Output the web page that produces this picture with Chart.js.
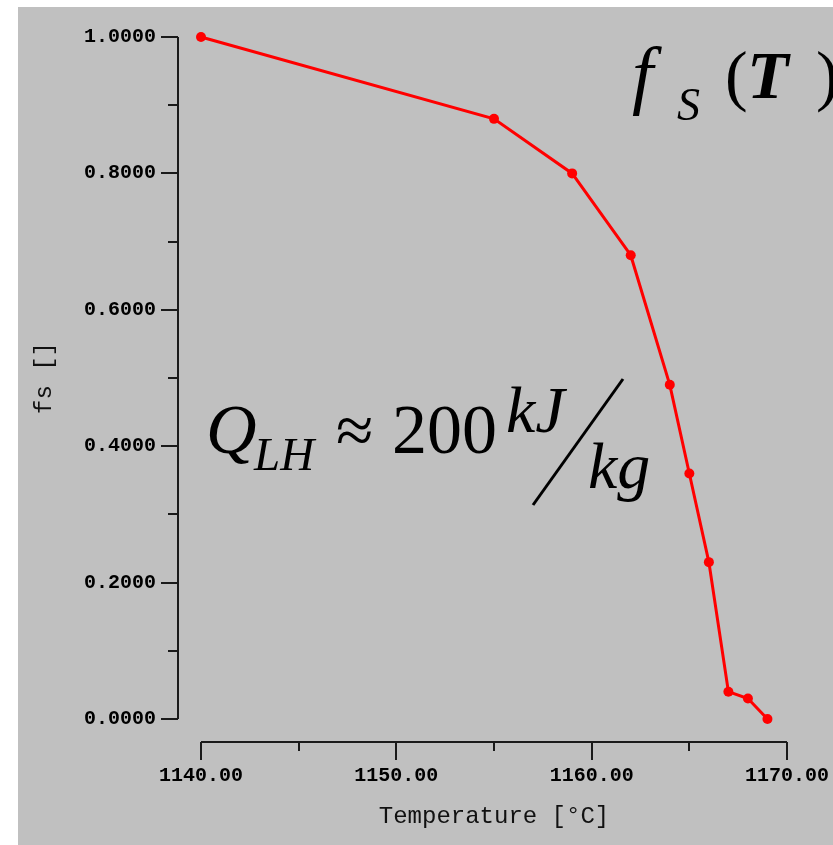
<!DOCTYPE html>
<html>
<head>
<meta charset="utf-8">
<script src="https://cdn.jsdelivr.net/npm/chart.js@4/dist/chart.umd.min.js"></script>
<style>
  html, body { margin: 0; padding: 0; background: #fff; }
  canvas { display: block; }
</style>
</head>
<body>
<canvas id="fsChart" width="833" height="845"></canvas>
<script>
const temperatures = [1140, 1155, 1159, 1162, 1164, 1165, 1166, 1167, 1168, 1169];
const solidFraction = [1.0, 0.88, 0.80, 0.68, 0.49, 0.36, 0.23, 0.04, 0.03, 0.0];
const xTickStep = 10;
const yTickStep = 0.2;

const points = temperatures.map((t, i) => ({ x: t, y: solidFraction[i] }));

const backdrop = {
    id: 'backdrop',
    beforeDraw(chart) {
        const ctx = chart.ctx;
        ctx.save();
        ctx.fillStyle = '#ffffff';
        ctx.fillRect(0, 0, chart.width, chart.height);
        ctx.fillStyle = '#c0c0c0';
        ctx.fillRect(18, 7, chart.width - 18, chart.height - 7);
        ctx.restore();
    }
};

// axes sit a bit away from the plot area, with major and minor ticks
const offsetAxes = {
    id: 'offsetAxes',
    beforeDatasetsDraw(chart) {
        const ctx = chart.ctx;
        const xs = chart.scales.x, ys = chart.scales.y;
        const axisX = xs.left - 23;
        const axisY = ys.bottom + 23;
        ctx.save();
        ctx.strokeStyle = '#1a1a1a';
        ctx.lineWidth = 2;
        ctx.beginPath();
        ctx.moveTo(axisX, ys.top);
        ctx.lineTo(axisX, ys.bottom);
        ctx.moveTo(xs.left, axisY);
        ctx.lineTo(xs.right, axisY);

        const yVals = ys.ticks.map(t => t.value);
        yVals.forEach((v, i) => {
            const py = Math.round(ys.getPixelForValue(v));
            ctx.moveTo(axisX - 17, py);
            ctx.lineTo(axisX, py);
            if (i < yVals.length - 1) {
                const my = Math.round(ys.getPixelForValue((v + yVals[i + 1]) / 2));
                ctx.moveTo(axisX - 10, my);
                ctx.lineTo(axisX, my);
            }
        });
        const xVals = xs.ticks.map(t => t.value);
        xVals.forEach((v, i) => {
            const px = Math.round(xs.getPixelForValue(v));
            ctx.moveTo(px, axisY);
            ctx.lineTo(px, axisY + 18);
            if (i < xVals.length - 1) {
                const mx = Math.round(xs.getPixelForValue((v + xVals[i + 1]) / 2));
                ctx.moveTo(mx, axisY);
                ctx.lineTo(mx, axisY + 9);
            }
        });
        ctx.stroke();
        ctx.restore();
    }
};

const formulas = {
    id: 'formulas',
    afterDraw(chart) {
        const ctx = chart.ctx;
        ctx.save();
        ctx.fillStyle = '#000';
        ctx.textBaseline = 'alphabetic';
        ctx.textAlign = 'left';
        const serif = '"Liberation Serif", "Times New Roman", serif';

        // f_S(T)
        ctx.font = 'italic 76px ' + serif;
        ctx.fillText('f', 632, 100);
        ctx.font = 'italic 46px ' + serif;
        ctx.fillText('S', 677, 120);
        ctx.font = '68px ' + serif;
        ctx.fillText('(', 725, 98);
        ctx.font = 'italic bold 68px ' + serif;
        ctx.fillText('T', 747, 98);
        ctx.font = '68px ' + serif;
        ctx.fillText(')', 816, 98);

        // Q_LH ~ 200 kJ/kg
        ctx.font = 'italic 70px ' + serif;
        ctx.fillText('Q', 206, 453);
        ctx.font = 'italic 47px ' + serif;
        ctx.fillText('LH', 254, 470);
        ctx.font = '68px ' + serif;
        ctx.fillText('\u2248', 336, 453);
        ctx.font = '70px ' + serif;
        ctx.fillText('200', 392, 453);
        ctx.font = 'italic 66px ' + serif;
        ctx.fillText('kJ', 506, 432);
        ctx.fillText('kg', 588, 488);

        ctx.strokeStyle = '#000';
        ctx.lineWidth = 3;
        ctx.beginPath();
        ctx.moveTo(623, 379);
        ctx.lineTo(533, 505);
        ctx.stroke();
        ctx.restore();
    }
};

function pinScale(s, size) {
    if (s.isHorizontal()) s.height = size; else s.width = size;
    s.paddingLeft = 0;
    s.paddingRight = 0;
    s.paddingTop = 0;
    s.paddingBottom = 0;
}

new Chart(document.getElementById('fsChart').getContext('2d'), {
    type: 'line',
    data: {
        datasets: [{
            data: points,
            borderColor: '#ff0000',
            backgroundColor: '#ff0000',
            borderWidth: 3,
            pointRadius: 5,
            pointBorderWidth: 0,
            pointBackgroundColor: '#ff0000',
            tension: 0,
            clip: false
        }]
    },
    options: {
        responsive: false,
        animation: false,
        devicePixelRatio: 1,
        layout: { padding: { top: 37, right: 46, left: 0, bottom: 0 } },
        plugins: { legend: { display: false }, tooltip: { enabled: false } },
        scales: {
            x: {
                type: 'linear',
                min: 1140,
                max: 1170,
                grid: { display: false, drawTicks: false },
                border: { display: false },
                ticks: {
                    stepSize: xTickStep,
                    padding: 45,
                    color: '#000',
                    font: { family: '"Liberation Mono", monospace', size: 20, weight: 'bold' },
                    callback: v => Number(v).toFixed(2)
                },
                title: {
                    display: true,
                    text: 'Temperature [°C]',
                    color: '#111',
                    font: { family: '"Liberation Mono", monospace', size: 24 },
                    padding: { top: 0, bottom: 14 }
                },
                afterFit: s => pinScale(s, 126)
            },
            y: {
                min: 0,
                max: 1,
                grid: { display: false, drawTicks: false },
                border: { display: false },
                ticks: {
                    stepSize: yTickStep,
                    padding: 45,
                    color: '#000',
                    font: { family: '"Liberation Mono", monospace', size: 20, weight: 'bold' },
                    callback: v => Number(v).toFixed(4)
                },
                title: {
                    display: true,
                    text: 'fs []',
                    color: '#111',
                    font: { family: '"Liberation Mono", monospace', size: 24 },
                    padding: { top: 30, bottom: 0 }
                },
                afterFit: s => pinScale(s, 201)
            }
        }
    },
    plugins: [backdrop, offsetAxes, formulas]
});
</script>
</body>
</html>
